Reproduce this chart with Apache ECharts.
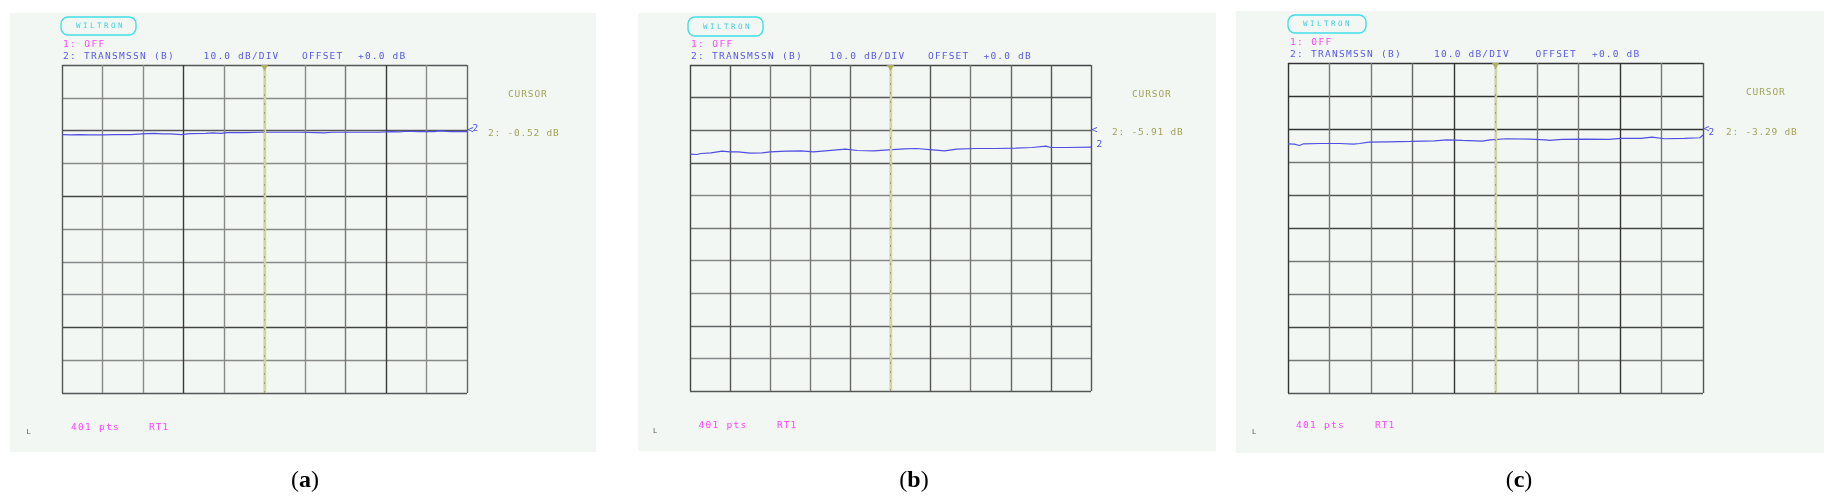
<!DOCTYPE html>
<html><head><meta charset="utf-8">
<script src="https://cdn.jsdelivr.net/npm/echarts@6/dist/echarts.min.js"></script>
<style>html,body{margin:0;padding:0;background:#fff}#c{width:1838px;height:503px}</style>
</head><body><div id="c"></div>
<script>
// ---- data ----
const xA = [0,9,17,28,40,52,68,83,91,99,107,118,126,142,149,157,163,181,196,212,235,251,259,267,290,313,325,333,341,352,368,372,384,400];
const yA = [-1.22,-1.33,-1.22,-1.33,-1.33,-1.22,-1.22,-0.92,-0.82,-1.02,-1.02,-1.22,-0.92,-0.82,-0.71,-0.82,-0.61,-0.61,-0.51,-0.51,-0.51,-0.61,-0.71,-0.51,-0.51,-0.51,-0.31,-0.41,-0.20,-0.31,-0.31,-0.10,-0.31,-0.31];
const xB = [0,7,11,21,32,40,48,60,72,80,96,111,123,135,155,167,183,198,214,226,242,254,266,285,305,325,341,355,360,376,400];
const yB = [-7.35,-7.45,-7.14,-6.94,-6.43,-6.63,-6.63,-7.04,-6.94,-6.63,-6.43,-6.33,-6.63,-6.33,-5.82,-6.22,-6.33,-6.02,-5.71,-5.61,-6.02,-6.33,-5.82,-5.61,-5.61,-5.51,-5.31,-4.90,-5.31,-5.31,-5.20];
const xC = [0,6,11,15,31,50,63,69,78,96,118,141,153,168,187,195,210,233,248,252,264,287,309,321,340,351,363,382,397,400];
const yC = [-4.49,-4.59,-5.00,-4.49,-4.39,-4.39,-4.59,-4.39,-3.98,-3.88,-3.78,-3.57,-3.27,-3.47,-3.67,-3.27,-2.96,-3.06,-3.27,-3.47,-3.16,-3.06,-3.16,-2.86,-2.86,-2.45,-2.96,-2.86,-2.65,-1.84];
const panelX = [xA, xB, xC];
const panelY = [yA, yB, yC];
const cursorAt = [200, 200, 200];
const cursorText = ['2: -0.52 dB', '2: -5.91 dB', '2: -3.29 dB'];
const captions = ['a', 'b', 'c'];
const xMin = 0, xMax = 400, xStep = 40;     // 401 pts, 10 divisions
const yMin = -80, yMax = 20, yStep = 10;    // 10.0 dB/DIV
const refLevel = 0;

// ---- layout (positions / styles) ----
const L = [
  {bg:[10,13,586,439], grid:[62,65,405,328], badge:[61,17,75,18], off:[63,44.5], tr:[63,57], div:203.6, ofs:302, o0:358, cur:[508,94.5], val:[488,133.5], ell:[26.5,432], pts:[71,427.5], rt:[149,427.5], cap:305,
   vcol:['#555','#888','#8a8a8a','#3a3a3a','#888','#999','#8a8a8a','#777','#3a3a3a','#8a8a8a','#666'],
   hcol:['#555','#888','#444','#888','#888','#888','#444','#8a8a8a','#555','#888','#555']},
  {bg:[638,13,578,438], grid:[690,65,401,326], badge:[688,17,75,19], off:[691,44.5], tr:[691,57], div:829.5, ofs:928, o0:983.5, cur:[1132,94.5], val:[1112,133], ell:[653,431], pts:[698.5,425.5], rt:[777,425.5], cap:914,
   vcol:['#444','#555','#777','#777','#666','#999','#555','#777','#666','#555','#555'],
   hcol:['#555','#888','#666','#888','#888','#777','#888','#555','#666','#555','#444']},
  {bg:[1236,11,588,442], grid:[1288,63,415,330], badge:[1288,15,78,18], off:[1290,43], tr:[1290,55], div:1434, ofs:1535.5, o0:1592, cur:[1746,93], val:[1726,133], ell:[1252,432], pts:[1296,425.5], rt:[1375,425.5], cap:1519,
   vcol:['#333','#777','#777','#666','#333','#999','#777','#777','#333','#777','#555'],
   hcol:['#555','#777','#444','#777','#777','#444','#555','#777','#333','#333','#333']}
];

const chart = echarts.init(document.getElementById('c'), null, {renderer:'canvas'});
const mono = '"DejaVu Sans Mono", monospace';
const grids = [], xAxes = [], yAxes = [], series = [], graphic = [];

// instrument-screen text: fixed character pitch, small glyphs
function spaced(txt, x, y, col, pitch, size) {
  const kids = [];
  for (let k = 0; k < txt.length; k++) {
    if (txt[k] === ' ') continue;
    kids.push({type:'text', x:k*pitch, y:0, style:{text:txt[k], font:size+'px '+mono, fill:col, verticalAlign:'middle'}});
  }
  graphic.push({type:'group', x:x, y:y, children:kids, silent:true});
}

L.forEach((p, i) => {
  graphic.push({type:'rect', z:-10, shape:{x:p.bg[0], y:p.bg[1], width:p.bg[2], height:p.bg[3]}, style:{fill:'#f2f7f4'}, silent:true});
  graphic.push({type:'rect', shape:{x:p.badge[0], y:p.badge[1], width:p.badge[2], height:p.badge[3], r:7}, style:{fill:'none', stroke:'#3fe0e6', lineWidth:1.4}, silent:true});
  spaced('WILTRON', p.badge[0]+15, p.badge[1]+p.badge[3]/2+0.5, '#3fd0dc', 7, 7.5);
  spaced('1: OFF', p.off[0], p.off[1], '#ff44ff', 7.1, 9.5);
  spaced('2: TRANSMSSN (B)', p.tr[0], p.tr[1], '#5a5ae0', 7.0, 9.5);
  spaced('10.0 dB/DIV', p.div, p.tr[1], '#5a5ae0', 6.9, 9.5);
  spaced('OFFSET', p.ofs, p.tr[1], '#5a5ae0', 6.9, 9.5);
  spaced('+0.0 dB', p.o0, p.tr[1], '#5a5ae0', 6.9, 9.5);
  spaced('CURSOR', p.cur[0], p.cur[1], '#a3a356', 6.6, 9.5);
  spaced(cursorText[i], p.val[0], p.val[1], '#a3a356', 6.5, 9.5);
  spaced('L', p.ell[0], p.ell[1], '#555', 6, 7);
  spaced('401 pts', p.pts[0], p.pts[1], '#ff44ff', 7.0, 9.5);
  spaced('RT1', p.rt[0], p.rt[1], '#ff44ff', 6.8, 9.5);
  graphic.push({type:'text', x:p.cap, y:481, style:{text:'{p|(}{b|' + captions[i] + '}{p|)}', rich:{p:{font:'24px "Liberation Serif", serif', fill:'#000'}, b:{font:'bold 24px "Liberation Serif", serif', fill:'#000'}}, align:'center', verticalAlign:'middle'}, silent:true});

  grids.push({left:p.grid[0], top:p.grid[1], width:p.grid[2], height:p.grid[3], show:false});
  xAxes.push({type:'value', gridIndex:i, min:xMin, max:xMax, interval:xStep,
    axisLine:{show:false}, axisTick:{show:false}, axisLabel:{show:false},
    splitLine:{show:true, showMinLine:true, showMaxLine:true, lineStyle:{color:p.vcol, width:1.4}}});
  yAxes.push({type:'value', gridIndex:i, min:yMin, max:yMax, interval:yStep,
    axisLine:{show:false}, axisTick:{show:false}, axisLabel:{show:false},
    splitLine:{show:true, showMinLine:true, showMaxLine:true, lineStyle:{color:p.hcol, width:1.4}}});

  const xs = panelX[i], ys = panelY[i];
  const data = xs.map((x, k) => [x, ys[k]]);
  series.push({type:'line', xAxisIndex:i, yAxisIndex:i, data:data, showSymbol:false, silent:true, animation:false,
    lineStyle:{color:'#5050e0', width:1.2},
    markLine:{silent:true, symbol:'none', animation:false, label:{show:false},
      data:[{xAxis:cursorAt[i], lineStyle:{color:'#d4d49e', width:2.4, type:'solid'}},
            {xAxis:cursorAt[i], lineStyle:{color:'#a2a266', width:1, type:[2,7]}}]},
    markPoint:{silent:true, animation:false,
      data:[
        {coord:[cursorAt[i], yMax], symbol:'triangle', symbolRotate:180, symbolSize:[7,6], symbolOffset:[0,3], itemStyle:{color:'#b0b060'}, label:{show:false}},
        {coord:[xMax, refLevel], symbol:'circle', symbolSize:1, itemStyle:{color:'rgba(0,0,0,0)'}, label:{show:true, position:'right', distance:0, formatter:'<', color:'#5050e0', fontSize:10, fontFamily:mono}},
        {coord:[xMax, ys[ys.length-1]], symbol:'circle', symbolSize:1, itemStyle:{color:'rgba(0,0,0,0)'}, label:{show:true, position:'right', distance:5, offset:[0,-3], formatter:'2', color:'#5050e0', fontSize:9.5, fontFamily:mono}}
      ]}
  });
});

chart.setOption({animation:false, backgroundColor:'#fff', grid:grids, xAxis:xAxes, yAxis:yAxes, series:series, graphic:graphic});
</script></body></html>
